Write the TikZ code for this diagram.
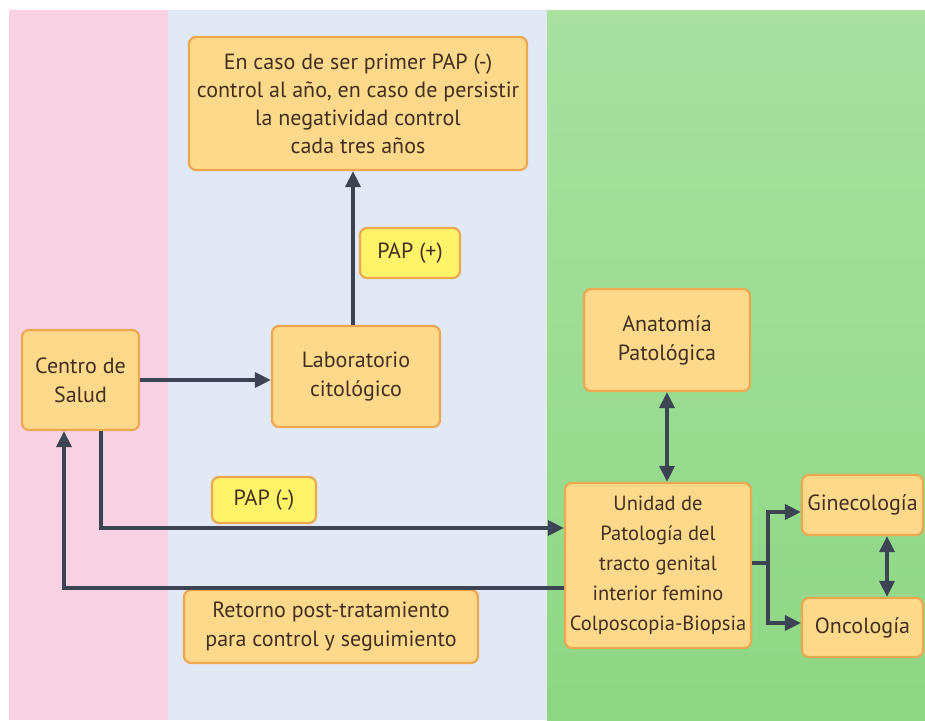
\documentclass[tikz,border=0pt]{standalone}
\usepackage{fontspec}
\setmainfont{PT Sans}
\usetikzlibrary{arrows.meta,calc}
\definecolor{bxfill}{HTML}{FFD98B}
\definecolor{bxdraw}{HTML}{EBA850}
\definecolor{papfill}{HTML}{FFF36A}
\definecolor{txt}{HTML}{3F3020}
\definecolor{pinkbg}{HTML}{F8D2E3}
\definecolor{bluebg}{HTML}{E1E9F6}
\definecolor{greentop}{HTML}{A8E1A0}
\definecolor{greenbot}{HTML}{8ED784}
\definecolor{arrc}{HTML}{3C4453}
\tikzset{
  box/.style={draw=bxdraw, line width=2.2pt, fill=bxfill, rounded corners=7pt,
    text=txt, align=center, inner sep=0pt, font=\fontsize{22}{29}\selectfont},
  papbox/.style={box, fill=papfill},
  arr/.style={draw=arrc, line width=3.2pt, -{Triangle[length=16pt,width=15pt]}},
  darr/.style={draw=arrc, line width=3.2pt, {Triangle[length=16pt,width=15pt]}-{Triangle[length=16pt,width=15pt]}},
  ln/.style={draw=arrc, line width=3.2pt}
}
\begin{document}
\begin{tikzpicture}[x=1pt,y=-1pt]
\useasboundingbox (0,0) rectangle (925,720);
\fill[white] (0,0) rectangle (925,720);
\fill[pinkbg] (9,10) rectangle (168,720);
\fill[bluebg] (168,10) rectangle (547,720);
\shade[top color=greentop, bottom color=greenbot] (547,10) rectangle (925,720);

\node[box, minimum width=338pt, minimum height=133pt, font=\fontsize{22}{28}\selectfont] (top) at (358,103.5)
  {En caso de ser primer PAP (-)\\control al año, en caso de persistir\\la negatividad control\\cada tres años};
\node[papbox, minimum width=100pt, minimum height=50pt] (papp) at (410,253) {PAP (+)};
\node[box, minimum width=117pt, minimum height=100pt] (centro) at (80.5,380) {Centro de\\Salud};
\node[box, minimum width=168pt, minimum height=101pt] (lab) at (356,376.5) {Laboratorio\\citológico};
\node[box, minimum width=166pt, minimum height=102pt] (anat) at (667,340) {Anatomía\\Patológica};
\node[papbox, minimum width=104pt, minimum height=46pt] (papm) at (264,500) {PAP (-)};
\node[box, minimum width=294pt, minimum height=73pt] (ret) at (331,626.5) {Retorno post-tratamiento\\para control y seguimiento};
\node[box, minimum width=186pt, minimum height=165pt, font=\fontsize{20.5}{30}\selectfont] (uni) at (658,565.5)
  {Unidad de\\Patología del\\tracto genital\\interior femino\\Colposcopia-Biopsia};
\node[box, minimum width=121pt, minimum height=60pt] (gine) at (862.5,505) {Ginecología};
\node[box, minimum width=121pt, minimum height=59pt] (onco) at (862.5,627.5) {Oncología};

\coordinate (br) at (768,563);

\draw[arr] (centro.east) -- (centro.east -| lab.west);
\draw[arr] ([xshift=-3pt]lab.north) -- ([xshift=-3pt]lab.north |- top.south);
\draw[arr] ([xshift=20.5pt]centro.south) |- (uni.west |- 0,528);
\draw[arr] (uni.west |- 0,588) -| ([xshift=-16.5pt]centro.south);
\draw[darr] (anat.south) -- (anat.south |- uni.north);
\draw[ln] (uni.east |- br) -- (br);
\draw[arr] (br) |- (gine.west |- 0,512);
\draw[arr] (br) |- (onco.west |- 0,623);
\draw[darr] ([xshift=24.5pt]gine.south) -- ([xshift=24.5pt]onco.north);
\end{tikzpicture}
\end{document}
